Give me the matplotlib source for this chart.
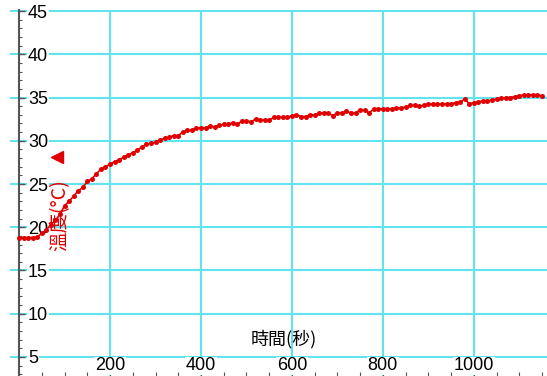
import matplotlib.pyplot as plt
from matplotlib.ticker import MultipleLocator

# 溫度記錄 (每10秒一筆)
time_s = list(range(0, 1160, 10))
temp_c = [
    18.8, 18.8, 18.8, 18.8, 18.9, 19.3, 19.7, 20.3, 20.8, 21.5,
    22.5, 23.0, 23.6, 24.2, 24.6, 25.3, 25.6, 26.2, 26.7, 27.0,
    27.3, 27.6, 27.8, 28.1, 28.4, 28.6, 28.9, 29.3, 29.6, 29.7,
    29.8, 30.1, 30.3, 30.4, 30.6, 30.6, 31.0, 31.2, 31.2, 31.5,
    31.5, 31.5, 31.7, 31.6, 31.8, 31.9, 31.9, 32.1, 31.9, 32.3,
    32.3, 32.2, 32.5, 32.4, 32.4, 32.4, 32.7, 32.7, 32.7, 32.7,
    32.9, 33.0, 32.8, 32.8, 33.0, 33.0, 33.2, 33.2, 33.2, 32.9,
    33.2, 33.2, 33.4, 33.2, 33.2, 33.6, 33.5, 33.2, 33.7, 33.7,
    33.7, 33.7, 33.7, 33.8, 33.8, 33.9, 34.1, 34.1, 34.0, 34.1,
    34.25, 34.25, 34.25, 34.25, 34.25, 34.3, 34.4, 34.5, 34.8, 34.3,
    34.4, 34.5, 34.6, 34.6, 34.7, 34.8, 34.9, 35.0, 35.0, 35.1,
    35.2, 35.3, 35.3, 35.3, 35.3, 35.2,
]

x_ticks = [200, 400, 600, 800, 1000]
y_ticks = [5, 10, 15, 20, 25, 30, 35, 40, 45]

x_label = "時間(秒)"
y_label = "溫度(°C)"

grid_color = "#62e4ee"
axis_color = "#555555"
cjk = ["Noto Sans CJK TC", "DejaVu Sans"]
num_font = ["Liberation Sans", "DejaVu Sans"]

fig = plt.figure(figsize=(5.47, 3.76), dpi=100)
ax = fig.add_axes([10/547, 0, 537/547, 366/376])
ax.set_xlim(-20, 1161)
ax.set_ylim(2.8, 45.12)

# grid lines drawn by hand so tick labels can sit on top of them
for y in y_ticks:
    ax.axhline(y, color=grid_color, lw=1.5, zorder=0.3)
for x in x_ticks:
    ax.axvline(x, color=grid_color, lw=1.5, zorder=0.3)

ax.plot(time_s, temp_c, color="#e00000", lw=1.2, marker="o",
        markersize=3.6, markeredgewidth=0, zorder=3)

# axes look
for s in ["top", "right", "bottom"]:
    ax.spines[s].set_visible(False)
ax.spines["left"].set_position(("data", 0))
ax.spines["left"].set_color(axis_color)
ax.spines["left"].set_linewidth(1.5)

ax.set_xticks(x_ticks)
ax.set_xticklabels([str(v) for v in x_ticks])
ax.set_yticks(y_ticks)
ax.set_yticklabels([str(v) for v in y_ticks])
ax.xaxis.set_minor_locator(MultipleLocator(50))
ax.yaxis.set_minor_locator(MultipleLocator(1))

ax.tick_params(axis="x", which="both", direction="in", colors=axis_color,
               length=3, width=0.8, pad=-13.5, labelsize=13, labelcolor="black")
ax.tick_params(axis="y", which="major", direction="in", colors=axis_color,
               length=4.5, width=1, pad=-6.5, labelsize=13, labelcolor="black")
ax.tick_params(axis="y", which="minor", direction="in", colors=axis_color,
               length=2.5, width=0.8)

for lbl in ax.get_xticklabels() + ax.get_yticklabels():
    lbl.set_family(num_font)
    lbl.set_bbox(dict(facecolor="white", edgecolor="none", pad=0.5))
for lbl in ax.get_yticklabels():
    lbl.set_horizontalalignment("left")

ax.set_xlabel(x_label, family=cjk, fontsize=13, va="center")
ax.xaxis.set_label_coords(0.51, 0.101)

ax.text(0.092, 0.44, y_label, transform=ax.transAxes, family=cjk,
        fontsize=14, color="#e00000", rotation=90, ha="center", va="center")
ax.plot([0.0875], [0.598], marker="<", markersize=9, color="#e00000",
        transform=ax.transAxes, clip_on=False)

plt.savefig("out.png", dpi=100)
